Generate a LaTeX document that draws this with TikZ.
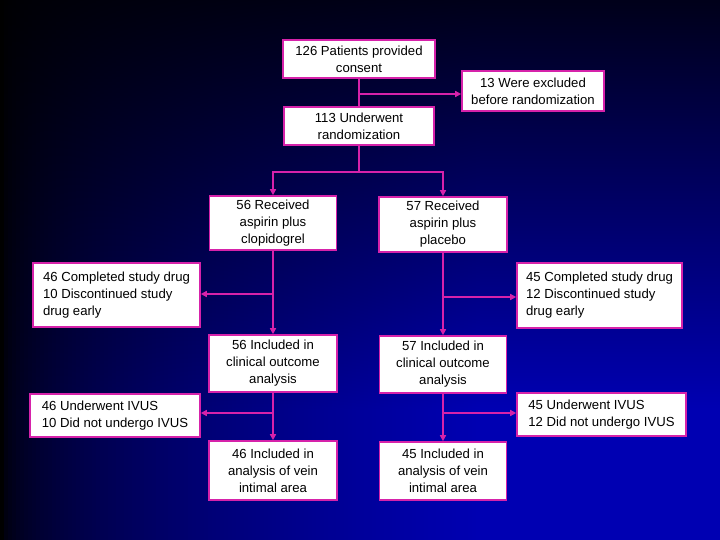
\documentclass[tikz,border=0pt]{standalone}
\usepackage{fontspec}
\setmainfont{Liberation Sans}
\usetikzlibrary{arrows.meta}
\definecolor{flowmag}{RGB}{214,34,170}
\tikzset{
  box/.style={draw=flowmag, line width=1.6bp, fill=white, inner sep=0pt,
    font=\fontsize{13.2}{17}\selectfont, align=center},
  sidebox/.style={box, align=left},
  flow/.style={flowmag, line width=1.4bp},
  flowarrow/.style={flow, -{Triangle[length=6bp,width=6bp]}}
}
\begin{document}
\begin{tikzpicture}[x=1bp,y=-1bp]
\useasboundingbox (0,0) rectangle (720,540);
\foreach \i in {0,...,179}{
  \pgfmathsetmacro\fac{min(1,sqrt(\i*4/480))}
  \pgfmathsetmacro\botb{0.70*\fac}
  \pgfmathsetmacro\topb{0.10*\fac}
  \definecolor{stripbot}{rgb}{0,0,\botb}
  \definecolor{striptop}{rgb}{0,0,\topb}
  \shade[top color=striptop, bottom color=stripbot] (\i*4,0) rectangle (\i*4+4.6,410);
  \fill[stripbot] (\i*4,409.5) rectangle (\i*4+4.6,540);
}

\node[box, minimum width=152bp, minimum height=38bp] (consent) at (359,59) {126 Patients provided\\consent};
\node[box, minimum width=142bp, minimum height=40bp] (excluded) at (533,91) {13 Were excluded\\before randomization};
\node[box, minimum width=150bp, minimum height=38bp] (random) at (359,126) {113 Underwent\\randomization};
\node[box, minimum width=127bp, minimum height=54bp] (clopi) at (273,223) {56 Received\\aspirin plus\\clopidogrel};
\node[box, minimum width=128bp, minimum height=55bp] (placebo) at (443,224.5) {57 Received\\aspirin plus\\placebo};
\node[sidebox, minimum width=167bp, minimum height=64bp] (compL) at (116.5,295) {46 Completed study drug\\10 Discontinued study\\drug early};
\node[sidebox, minimum width=165bp, minimum height=65bp] (compR) at (599.5,295.5) {45 Completed study drug\\12 Discontinued study\\drug early};
\node[box, minimum width=128bp, minimum height=57bp] (clinL) at (273,363.5) {56 Included in\\clinical outcome\\analysis};
\node[box, minimum width=127bp, minimum height=57bp] (clinR) at (443,364.5) {57 Included in\\clinical outcome\\analysis};
\node[sidebox, minimum width=170bp, minimum height=43bp] (ivusL) at (115,415.5) {46 Underwent IVUS\\10 Did not undergo IVUS};
\node[sidebox, minimum width=169bp, minimum height=43bp] (ivusR) at (601.5,414.5) {45 Underwent IVUS\\12 Did not undergo IVUS};
\node[box, minimum width=128bp, minimum height=59bp] (veinL) at (273,470.5) {46 Included in\\analysis of vein\\intimal area};
\node[box, minimum width=127bp, minimum height=58bp] (veinR) at (443,471) {45 Included in\\analysis of vein\\intimal area};

\coordinate (j1) at (359,94);
\coordinate (j2) at (359,172);
\coordinate (j3) at (273,294);
\coordinate (j4) at (443,297);
\coordinate (j5) at (273,413);
\coordinate (j6) at (443,413);

\draw[flow] (consent) -- (random);
\draw[flowarrow] (j1) -- (excluded.west |- j1);
\draw[flow] (random) -- (j2);
\draw[flowarrow] (j2) -| (clopi.north);
\draw[flowarrow] (j2) -| (placebo.north);
\draw[flowarrow] (clopi) -- (clinL);
\draw[flowarrow] (j3) -- (compL.east |- j3);
\draw[flowarrow] (placebo) -- (clinR);
\draw[flowarrow] (j4) -- (compR.west |- j4);
\draw[flowarrow] (clinL) -- (veinL);
\draw[flowarrow] (j5) -- (ivusL.east |- j5);
\draw[flowarrow] (clinR) -- (veinR);
\draw[flowarrow] (j6) -- (ivusR.west |- j6);
\end{tikzpicture}
\end{document}
